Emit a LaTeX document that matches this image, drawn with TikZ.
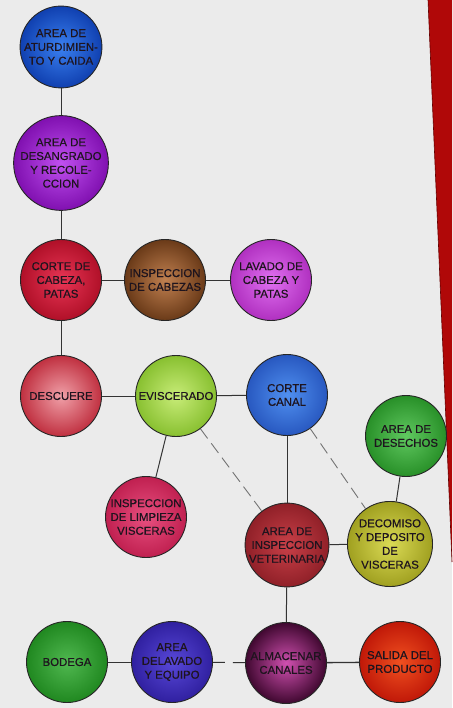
\documentclass[tikz,border=0pt]{standalone}
\usepackage{fontspec}
\setmainfont{Liberation Sans}
\usetikzlibrary{shadings}
\definecolor{bg}{HTML}{EBEBEB}
\definecolor{txt}{HTML}{1E141E}
\tikzset{
  ball/.style n args={2}{circle, draw=black!85, line width=0.9pt, minimum size=81pt, inner sep=0pt,
    inner color=#1, outer color=#2, text=txt, align=center,
    font=\fontsize{11.4}{13.8}\selectfont\addfontfeature{FakeBold=0.5}},
  link/.style={draw=black!80, line width=1pt},
  dlink/.style={draw=black!55, line width=0.9pt, dash pattern=on 12pt off 6pt},
}
\definecolor{atuI}{HTML}{3A80F0}\definecolor{atuO}{HTML}{1040B0}
\definecolor{desI}{HTML}{C050F0}\definecolor{desO}{HTML}{8010B0}
\definecolor{corI}{HTML}{E83555}\definecolor{corO}{HTML}{B01028}
\definecolor{icaI}{HTML}{C08050}\definecolor{icaO}{HTML}{6A3A18}
\definecolor{lavI}{HTML}{E070F0}\definecolor{lavO}{HTML}{B030C0}
\definecolor{dscI}{HTML}{F0A0A8}\definecolor{dscO}{HTML}{C03040}
\definecolor{eviI}{HTML}{C8EC78}\definecolor{eviO}{HTML}{88C030}
\definecolor{canI}{HTML}{5090F0}\definecolor{canO}{HTML}{2858C0}
\definecolor{dshI}{HTML}{60C860}\definecolor{dshO}{HTML}{289028}
\definecolor{limI}{HTML}{E85080}\definecolor{limO}{HTML}{C02050}
\definecolor{vetI}{HTML}{C84048}\definecolor{vetO}{HTML}{902028}
\definecolor{decI}{HTML}{DADA55}\definecolor{decO}{HTML}{A0A020}
\definecolor{bodI}{HTML}{50B850}\definecolor{bodO}{HTML}{208820}
\definecolor{lvdI}{HTML}{5848D8}\definecolor{lvdO}{HTML}{3020A0}
\definecolor{almI}{HTML}{D050B0}\definecolor{almO}{HTML}{400830}
\definecolor{salI}{HTML}{F05020}\definecolor{salO}{HTML}{C01808}
\definecolor{wedge}{HTML}{B00808}
\begin{document}
\begin{tikzpicture}[x=1pt,y=-1pt]
\fill[bg] (0,0) rectangle (452,708);
\useasboundingbox (0,0) rectangle (452,708);
% red wedge
\fill[wedge] (428,0) -- (452,0) -- (452,562) -- cycle;
\draw[red!40!black, line width=0.6pt] (428,0) -- (452,562);

\node[ball={atuI}{atuO}] (atu) at (61,47) {AREA DE\\ATURDIMIEN-\\TO Y CAIDA};
\node[ball={desI}{desO}] (des) at (61,163) {AREA DE\\DESANGRADO\\Y RECOLE-\\CCION};
\node[ball={corI}{corO}] (cor) at (61,280) {CORTE DE\\CABEZA,\\PATAS};
\node[ball={icaI}{icaO}] (ica) at (165,280) {INSPECCION\\DE CABEZAS};
\node[ball={lavI}{lavO}] (lav) at (271,280) {LAVADO DE\\CABEZA Y\\PATAS};
\node[ball={dscI}{dscO}] (dsc) at (61,396) {DESCUERE};
\node[ball={eviI}{eviO}] (evi) at (176,396) {EVISCERADO};
\node[ball={canI}{canO}] (can) at (287,395) {CORTE\\CANAL};
\node[ball={dshI}{dshO}] (dsh) at (406,436) {AREA DE\\DESECHOS};
\node[ball={limI}{limO}] (lim) at (146,517) {INSPECCION\\DE LIMPIEZA\\VISCERAS};
\node[ball={vetI}{vetO}] (vet) at (287,545) {AREA DE\\INSPECCION\\VETERINARIA};
\node[ball={decI}{decO}] (dec) at (390,544) {DECOMISO\\Y DEPOSITO\\DE\\VISCERAS};
\node[ball={bodI}{bodO}] (bod) at (67,662) {BODEGA};
\node[ball={lvdI}{lvdO}] (lvd) at (172,662) {AREA\\DELAVADO\\Y EQUIPO};
\node[ball={almI}{almO}] (alm) at (286,663) {ALMACENAR\\CANALES};
\node[ball={salI}{salO}] (sal) at (400,662) {SALIDA DEL\\PRODUCTO};

\path[link] (atu) -- (des);
\path[link] (des) -- (cor);
\path[link] (cor) -- (ica);
\path[link] (ica) -- (lav);
\path[link] (cor) -- (dsc);
\path[link] (dsc) -- (evi);
\path[link] (evi) -- (can);
\path[link] (evi) -- (lim);
\path[dlink] (evi) -- (vet);
\path[link] (can) -- (vet);
\path[dlink] (can) -- (dec);
\path[link] (dsh) -- (dec);
\path[link] (vet) -- (dec);
\path[link] (vet) -- (alm);
\path[link] (bod) -- (lvd);
\path[link, dash pattern=on 12pt off 8pt] (lvd) -- (alm);
\path[link, line width=1.3pt] (alm) -- (sal);
\end{tikzpicture}
\end{document}
